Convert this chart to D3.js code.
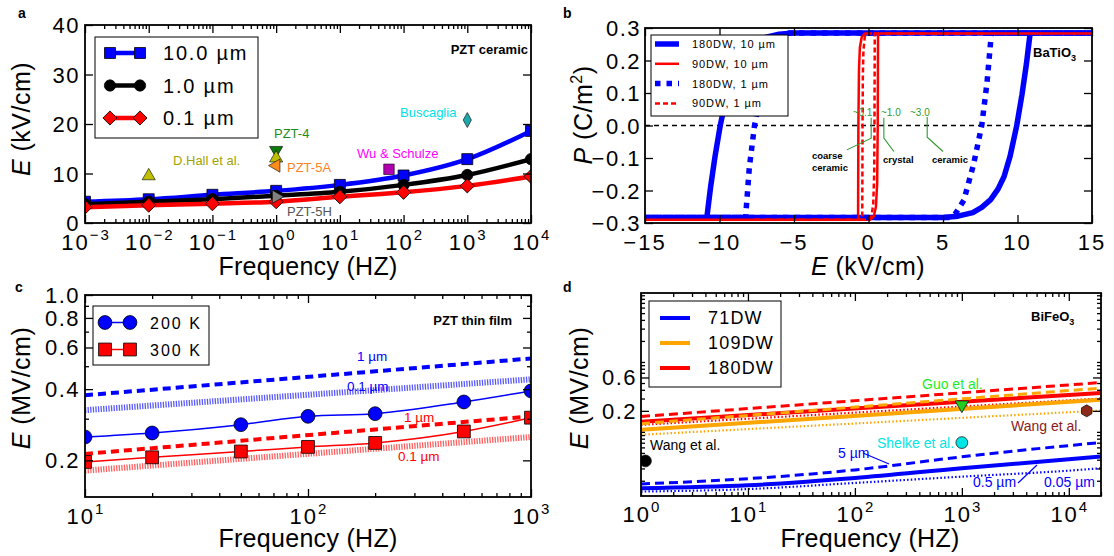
<!DOCTYPE html>
<html>
<head>
<meta charset="utf-8">
<script src="https://cdn.jsdelivr.net/npm/d3@7"></script>
<style>
  body { margin: 0; background: #fff; }
  text { font-family: "Liberation Sans", Arial, sans-serif; }
</style>
</head>
<body>
<div id="chart"></div>
<script>
// ---------- panel a : PZT ceramic ----------
const freqA = [1e-3, 1e-2, 1e-1, 1, 10, 100, 1e3, 1e4];
const ecA10um = [4.3, 4.8, 5.7, 6.5, 7.7, 9.6, 12.9, 18.6];
const ecA1um = [3.8, 4.3, 4.8, 5.5, 6.3, 7.7, 9.7, 12.9];
const ecA01um = [3.2, 3.6, 3.9, 4.3, 5.3, 6.2, 7.5, 9.4];
const legendA = ["10.0 µm", "1.0 µm", "0.1 µm"];
const expA = [-3, -2, -1, 0, 1, 2, 3, 4];
const yTicksA = [0, 10, 20, 30, 40];
// literature points (frequency, coercive field)
const refNamesA = ["D.Hall et al.", "PZT-4", "D.Hall et al.", "PZT-5A", "PZT-5H", "Wu & Schulze", "Buscaglia"];
const refFreqA = [0.01, 1, 1, 1, 1, 59, 1000];
const refFieldA = [9.5, 14.7, 13.1, 11.6, 5.3, 10.85, 20.8];

// ---------- panel b : BaTiO3 hysteresis ----------
const loop180w10Up = [[-15, -0.283], [5.0, -0.283], [6.0, -0.279], [7.0, -0.268], [7.6, -0.252], [8.2, -0.228], [8.7, -0.195], [9.1, -0.157], [9.5, -0.095], [9.95, 0.0], [10.3, 0.095], [10.6, 0.19], [10.85, 0.285], [15, 0.285]];
const loop180w10Down = [[15, 0.285], [-5.0, 0.285], [-6.0, 0.281], [-7.0, 0.27], [-7.6, 0.254], [-8.2, 0.23], [-8.7, 0.197], [-9.1, 0.159], [-9.5, 0.097], [-9.95, 0.0], [-10.3, -0.095], [-10.6, -0.19], [-10.85, -0.283], [-15, -0.283]];
const loop90w10Up = [[-15, -0.29], [0.1, -0.29], [0.35, -0.28], [0.5, -0.25], [0.58, -0.18], [0.62, 0.0], [0.64, 0.283], [15, 0.283]];
const loop90w10Down = [[15, 0.283], [-0.25, 0.283], [-0.45, 0.273], [-0.58, 0.24], [-0.64, 0.17], [-0.68, 0.0], [-0.7, -0.29], [-15, -0.29]];
const loop180w1Up = [[-15, -0.283], [5.5, -0.283], [5.85, -0.27], [6.4, -0.23], [7.05, -0.12], [7.6, 0.0], [7.95, 0.13], [8.25, 0.285], [15, 0.285]];
const loop180w1Down = [[15, 0.285], [-5.5, 0.285], [-5.85, 0.272], [-6.4, 0.232], [-7.1, 0.12], [-7.65, 0.0], [-8.0, -0.13], [-8.25, -0.283], [-15, -0.283]];
const loop90w1Up = [[-15, -0.29], [0.0, -0.29], [0.2, -0.28], [0.32, -0.24], [0.38, -0.15], [0.4, 0.0], [0.42, 0.283], [15, 0.283]];
const loop90w1Down = [[15, 0.283], [-0.1, 0.283], [-0.25, 0.273], [-0.34, 0.23], [-0.38, 0.15], [-0.4, 0.0], [-0.42, -0.29], [-15, -0.29]];
const legendB = ["180DW, 10 µm", "90DW, 10 µm", "180DW, 1 µm", "90DW, 1 µm"];
const xTicksB = [-15, -10, -5, 0, 5, 10, 15];
const yTicksB = [-0.3, -0.2, -0.1, 0, 0.1, 0.2, 0.3];
const grainNotes = ["~0.1", "~1.0", "~3.0"];
const grainNoteE = [-0.4, 1.5, 3.45];
const grainNames = ["crystal", "ceramic"];

// ---------- panel c : PZT thin film ----------
const freqC = [10, 20, 50, 100, 200, 500, 1000];
const ec200K = [0.251, 0.261, 0.283, 0.307, 0.315, 0.353, 0.393];
const ec300K = [0.197, 0.206, 0.218, 0.228, 0.237, 0.265, 0.303];
const fitFreqC = [10, 1000];
const fitBlue1um = [0.377, 0.539];
const fitBlue01um = [0.326, 0.44];
const fitRed1um = [0.213, 0.307];
const fitRed01um = [0.181, 0.251];
const legendC = ["200 K", "300 K"];
const expC = [1, 2, 3];
const yTicksC = [0.2, 0.4, 0.6, 0.8, 1.0];
const yMinorC = [0.3, 0.5, 0.7, 0.9];

// ---------- panel d : BiFeO3 ----------
const fitFreqD = [1, 2e4];
const dw180Solid = [0.140, 0.359];
const dw180Dash = [0.166, 0.508];
const dw180Dot = [0.126, 0.30];
const dw109Solid = [0.107, 0.288];
const dw109Dash = [0.131, 0.423];
const dw109Dot = [0.091, 0.202];
const freqD71 = [1, 10, 100, 1e3, 1e4, 2e4];
const dw71Solid = [0.0156, 0.0172, 0.0219, 0.0302, 0.0406, 0.0443];
const dw71Dash = [0.0180, 0.0214, 0.0286, 0.0440, 0.0637, 0.0703];
const dw71Dot = [0.0140, 0.0152, 0.0186, 0.0229, 0.0279, 0.0302];
const legendD = ["71DW", "109DW", "180DW"];
const refNamesD = ["Wang et al.", "Guo et al.", "Shelke et al.", "Wang et al."];
const refFreqD = [1.1, 1000, 1000, 1.47e4];
const refFieldD = [0.0384, 0.244, 0.0703, 0.2];
const expD = [0, 1, 2, 3, 4];
const yTicksD = [0.2, 0.6];

const dejavu = '"DejaVu Sans", sans-serif';
const svg = d3.select("#chart").append("svg").attr("width", 1114).attr("height", 556);

// Utility functions
function minorLog(lo, hi) {
  const out = [];
  for (let e = Math.floor(Math.log10(lo)); e <= Math.ceil(Math.log10(hi)); e++) {
    for (let k = 2; k <= 9; k++) {
      const v = k * Math.pow(10, e);
      if (v >= lo * 0.999 && v <= hi * 1.001) out.push(v);
    }
  }
  return out;
}

function addClip(id, x, y) {
  const [x0, x1] = x.range(), [y0, y1] = y.range();
  svg.append("clipPath").attr("id", id).append("rect")
    .attr("x", x0).attr("y", y1).attr("width", x1 - x0).attr("height", y0 - y1);
  return svg.append("g").attr("clip-path", `url(#${id})`);
}

function ticks(x, y, xMajor, xMinor, yMajor, yMinor) {
  const [x0, x1] = x.range(), [y0, y1] = y.range();
  const g = svg.append("g");
  const add = (axis, tx, ty) => g.append("g")
    .attr("transform", `translate(${tx},${ty})`)
    .call(axis)
    .call(s => {
      s.select(".domain").remove();
      s.selectAll("text").remove();
      s.selectAll("line").attr("stroke-width", 1.3);
    });
  [[xMajor, 8], [xMinor, 4]].forEach(([v, len]) => {
    if (!v.length) return;
    add(d3.axisBottom(x).tickValues(v).tickSize(-len), 0, y0);
    add(d3.axisTop(x).tickValues(v).tickSize(-len), 0, y1);
  });
  [[yMajor, 8], [yMinor, 4]].forEach(([v, len]) => {
    if (!v.length) return;
    add(d3.axisLeft(y).tickValues(v).tickSize(-len), x0, 0);
    add(d3.axisRight(y).tickValues(v).tickSize(-len), x1, 0);
  });
  g.append("rect").attr("x", x0).attr("y", y1).attr("width", x1 - x0).attr("height", y0 - y1)
    .attr("fill", "none").attr("stroke", "#000").attr("stroke-width", 1.8);
}

function powLabels(x, exps, y) {
  exps.forEach(e => {
    const t = svg.append("text").attr("x", x(Math.pow(10, e)) + 1).attr("y", y)
      .attr("text-anchor", "middle").attr("font-size", 22).attr("letter-spacing", 2);
    t.append("tspan").text("10");
    t.append("tspan").attr("dy", -10).attr("font-size", 15).text(String(e).replace("-", "\u2212"));
  });
}

function yLabels(y, vals, xr, fmt) {
  vals.forEach(v => {
    svg.append("text").attr("x", xr).attr("y", y(v) + 8).attr("text-anchor", "end")
      .attr("font-size", 22).attr("letter-spacing", 1.5).text(fmt(v));
  });
}

function yTitle(x, y, parts) {
  const t = svg.append("text").attr("transform", `translate(${x},${y}) rotate(-90)`)
    .attr("text-anchor", "middle").attr("font-size", 25).attr("letter-spacing", 0.5);
  parts(t);
}

function xTitle(x, y, txt) {
  svg.append("text").attr("x", x).attr("y", y).attr("text-anchor", "middle")
    .attr("font-size", 25).attr("letter-spacing", 0.3).text(txt);
}

function panelLetter(x, y, s) {
  svg.append("text").attr("x", x).attr("y", y).attr("font-family", dejavu)
    .attr("font-weight", "bold").attr("font-size", 14).text(s);
}

function note(x, y, s, color, size) {
  return svg.append("text").attr("x", x).attr("y", y).attr("fill", color)
    .attr("font-size", size || 13).text(s);
}

const thinDiamond = s => `M0,${-s}L${s * 0.55},0L0,${s}L${-s * 0.55},0Z`;
const hexagon = r => d3.range(6).map(i => {
  const a = Math.PI / 6 + i * Math.PI / 3;
  return (i ? "L" : "M") + (r * Math.cos(a)).toFixed(2) + "," + (r * Math.sin(a)).toFixed(2);
}).join("") + "Z";

// ================= Panel a =================
const xA = d3.scaleLog().domain([1e-3, 1e4]).range([85, 531]);
const yA = d3.scaleLinear().domain([0, 40]).range([223, 25]);
const gA = addClip("clipA", xA, yA);
const lineA = d3.line().x(d => xA(d[0])).y(d => yA(d[1])).curve(d3.curveMonotoneX);
const seriesA = [
  { v: ecA10um, color: "#0000ff", sym: d3.symbol(d3.symbolSquare, 120)(), rot: 0 },
  { v: ecA1um, color: "#000000", sym: d3.symbol(d3.symbolCircle, 100)(), rot: 0 },
  { v: ecA01um, color: "#ff0000", sym: d3.symbol(d3.symbolSquare, 100)(), rot: 45 }
];
seriesA.forEach(s => {
  const pts = freqA.map((f, i) => [f, s.v[i]]);
  gA.append("path").datum(pts).attr("d", lineA).attr("fill", "none")
    .attr("stroke", s.color).attr("stroke-width", 4.5);
  gA.selectAll(null).data(pts).join("path").attr("d", s.sym)
    .attr("transform", d => `translate(${xA(d[0])},${yA(d[1])}) rotate(${s.rot})`)
    .attr("fill", s.color).attr("stroke", "#000").attr("stroke-width", 0.8);
});
// literature markers
const triUp = d3.symbol(d3.symbolTriangle, 75)();
const refStyleA = [
  { fill: "#bfbf00", d: triUp, rot: 0 },
  { fill: "#0b7a0b", d: triUp, rot: 180 },
  { fill: "#bfbf00", d: triUp, rot: 0 },
  { fill: "#ff8c1a", d: triUp, rot: -90 },
  { fill: "#808080", d: triUp, rot: 90 },
  { fill: "#b000b0", d: d3.symbol(d3.symbolSquare, 110)(), rot: 0 },
  { fill: "#20a8a8", d: thinDiamond(7.5), rot: 0 }
];
refFreqA.forEach((f, i) => {
  svg.append("path").attr("d", refStyleA[i].d)
    .attr("transform", `translate(${xA(f)},${yA(refFieldA[i])}) rotate(${refStyleA[i].rot})`)
    .attr("fill", refStyleA[i].fill).attr("stroke", "#000").attr("stroke-width", 0.6);
});
note(173, 165, refNamesA[0], "#a3a300");
note(274, 138, refNamesA[1], "#1e8c1e");
note(287, 172, refNamesA[3], "#ff7f27");
note(287, 216, refNamesA[4], "#555555");
note(357, 158, refNamesA[5], "#ff00ff");
note(400, 117, refNamesA[6], "#00e0e8");
svg.append("text").attr("x", 528).attr("y", 54).attr("text-anchor", "end")
  .attr("font-family", dejavu).attr("font-weight", "bold").attr("font-size", 13).text("PZT ceramic");
ticks(xA, yA, expA.map(e => Math.pow(10, e)), minorLog(1e-3, 1e4), yTicksA, []);
// legend a
svg.append("rect").attr("x", 95).attr("y", 37).attr("width", 163).attr("height", 101)
  .attr("fill", "#fff").attr("stroke", "#000").attr("stroke-width", 1);
seriesA.forEach((s, i) => {
  const ly = 53 + i * 32.5;
  svg.append("line").attr("x1", 110).attr("x2", 140).attr("y1", ly).attr("y2", ly)
    .attr("stroke", s.color).attr("stroke-width", 4.5);
  [110, 140].forEach(lx => svg.append("path").attr("d", s.sym)
    .attr("transform", `translate(${lx},${ly}) rotate(${s.rot})`)
    .attr("fill", s.color).attr("stroke", "#000").attr("stroke-width", 0.8));
  svg.append("text").attr("x", 163).attr("y", ly + 7).attr("font-size", 20)
    .attr("letter-spacing", 1.8).text(legendA[i]);
});
powLabels(xA, expA, 250);
yLabels(yA, yTicksA, 80, d3.format("d"));
yTitle(30, 119, t => {
  t.append("tspan").attr("font-style", "italic").text("E");
  t.append("tspan").text(" (kV/cm)");
});
xTitle(308, 275, "Frequency (HZ)");
panelLetter(18, 18, "a");

// ================= Panel b =================
const xB = d3.scaleLinear().domain([-15, 15]).range([645, 1092]);
const yB = d3.scaleLinear().domain([-0.3, 0.3]).range([223, 28]);
const gB = addClip("clipB", xB, yB);
const lineB = d3.line().x(d => xB(d[0])).y(d => yB(d[1]));
gB.append("line").attr("x1", xB(-15)).attr("x2", xB(15)).attr("y1", yB(0)).attr("y2", yB(0))
  .attr("stroke", "#000").attr("stroke-width", 1.5).attr("stroke-dasharray", "5,4");
const stylesB = [
  { color: "#0000ff", w: 5.5, dash: null },
  { color: "#ff0000", w: 2.5, dash: null },
  { color: "#0000ff", w: 5.5, dash: "5.5,6" },
  { color: "#ff0000", w: 2.5, dash: "5,3" }
];
const loopsB = [
  loop180w10Up.concat(loop180w10Down),
  loop90w10Up.concat(loop90w10Down),
  loop180w1Up.concat(loop180w1Down),
  loop90w1Up.concat(loop90w1Down)
];
loopsB.forEach((pts, i) => {
  gB.append("path").datum(pts).attr("d", lineB).attr("fill", "none")
    .attr("stroke", stylesB[i].color).attr("stroke-width", stylesB[i].w)
    .attr("stroke-dasharray", stylesB[i].dash).attr("stroke-linejoin", "round");
});
// grain size brackets
const green = "#2e9a2e";
const bracketsB = [
  [[0.18, 0.024], [0.18, -0.039], [-1.45, -0.075]],
  [[1.03, 0.024], [1.03, -0.039], [1.7, -0.08]],
  [[3.94, 0.026], [3.94, -0.036], [5.0, -0.08]]
];
bracketsB.forEach(b => svg.append("path").datum(b).attr("d", lineB).attr("fill", "none")
  .attr("stroke", green).attr("stroke-width", 1.1));
grainNotes.forEach((s, i) => svg.append("text").attr("x", xB(grainNoteE[i])).attr("y", 116)
  .attr("text-anchor", "middle").attr("font-family", dejavu).attr("font-size", 10)
  .attr("fill", green).text(s));
const smallBold = (x, y, s) => svg.append("text").attr("x", x).attr("y", y)
  .attr("font-family", dejavu).attr("font-weight", "bold").attr("font-size", 9.5).text(s);
smallBold(812, 159, "coarse");
smallBold(812, 171, "ceramic");
smallBold(883, 163, grainNames[0]);
smallBold(932, 163, grainNames[1]);
const bt = svg.append("text").attr("x", 1033).attr("y", 57).attr("font-family", dejavu)
  .attr("font-weight", "bold").attr("font-size", 13);
bt.append("tspan").text("BaTiO");
bt.append("tspan").attr("dy", 4).attr("font-size", 9).text("3");
ticks(xB, yB, xTicksB, [], yTicksB, []);
// legend b
svg.append("rect").attr("x", 651).attr("y", 35).attr("width", 137).attr("height", 81)
  .attr("fill", "#fff").attr("stroke", "#000").attr("stroke-width", 1);
legendB.forEach((s, i) => {
  const ly = 44 + i * 19.8;
  svg.append("line").attr("x1", 655).attr("x2", 679).attr("y1", ly).attr("y2", ly)
    .attr("stroke", stylesB[i].color).attr("stroke-width", stylesB[i].w)
    .attr("stroke-dasharray", stylesB[i].dash);
  svg.append("text").attr("x", 692).attr("y", ly + 4).attr("font-family", dejavu)
    .attr("font-size", 11).attr("letter-spacing", 0.9).text(s);
});
xTicksB.forEach(v => svg.append("text").attr("x", xB(v)).attr("y", 250)
  .attr("text-anchor", "middle").attr("font-size", 22).attr("letter-spacing", 2)
  .text(d3.format("d")(v)));
yLabels(yB, yTicksB, 641, d3.format(".1f"));
yTitle(592, 115, t => {
  t.append("tspan").attr("font-style", "italic").text("P");
  t.append("tspan").text(" (C/m");
  t.append("tspan").attr("dy", -10).attr("font-size", 16).text("2");
  t.append("tspan").attr("dy", 10).text(")");
});
const xtB = svg.append("text").attr("x", 868).attr("y", 275).attr("text-anchor", "middle")
  .attr("font-size", 25).attr("letter-spacing", 0.5);
xtB.append("tspan").attr("font-style", "italic").text("E");
xtB.append("tspan").text(" (kV/cm)");
panelLetter(563, 18, "b");

// ================= Panel c =================
const xC = d3.scaleLog().domain([10, 1000]).range([85, 531]);
const yC = d3.scaleLog().domain([0.14, 1.0]).range([497, 295]);
const gC = addClip("clipC", xC, yC);
const lineC = d3.line().x(d => xC(d[0])).y(d => yC(d[1]));
const fitsC = [
  { v: fitBlue1um, color: "#0000ff", w: 4, dash: "8,5" },
  { v: fitBlue01um, color: "#5a5aff", w: 6, dash: "1.3,1.3" },
  { v: fitRed1um, color: "#ff0000", w: 4, dash: "8,5" },
  { v: fitRed01um, color: "#ff6060", w: 6, dash: "1.3,1.3" }
];
fitsC.forEach(s => gC.append("path").datum(fitFreqC.map((f, i) => [f, s.v[i]]))
  .attr("d", lineC).attr("fill", "none").attr("stroke", s.color)
  .attr("stroke-width", s.w).attr("stroke-dasharray", s.dash));
const seriesC = [
  { v: ec200K, color: "#0000ff", sym: d3.symbol(d3.symbolCircle, 150)() },
  { v: ec300K, color: "#ff0000", sym: d3.symbol(d3.symbolSquare, 165)() }
];
const smoothC = d3.line().x(d => xC(d[0])).y(d => yC(d[1])).curve(d3.curveMonotoneX);
seriesC.forEach(s => {
  const pts = freqC.map((f, i) => [f, s.v[i]]);
  gC.append("path").datum(pts).attr("d", smoothC).attr("fill", "none")
    .attr("stroke", s.color).attr("stroke-width", 1.5);
  gC.selectAll(null).data(pts).join("path").attr("d", s.sym)
    .attr("transform", d => `translate(${xC(d[0])},${yC(d[1])})`)
    .attr("fill", s.color).attr("stroke", "#000").attr("stroke-width", 0.8);
});
note(357, 361, "1 µm", "#0000ff", 13.5);
note(347, 391, "0.1 µm", "#0000ff", 13.5);
note(404, 422, "1 µm", "#ff0000", 13.5);
note(398, 461, "0.1 µm", "#ff0000", 13.5);
svg.append("text").attr("x", 512).attr("y", 325).attr("text-anchor", "end")
  .attr("font-family", dejavu).attr("font-weight", "bold").attr("font-size", 13).text("PZT thin film");
ticks(xC, yC, expC.map(e => Math.pow(10, e)), minorLog(10, 1000), yTicksC, yMinorC);
svg.append("rect").attr("x", 93).attr("y", 306).attr("width", 116).attr("height", 59)
  .attr("fill", "#fff").attr("stroke", "#000").attr("stroke-width", 1);
seriesC.forEach((s, i) => {
  const ly = 322.5 + i * 27;
  svg.append("line").attr("x1", 105).attr("x2", 130).attr("y1", ly).attr("y2", ly)
    .attr("stroke", s.color).attr("stroke-width", 1.5);
  [105, 130].forEach(lx => svg.append("path").attr("d", s.sym)
    .attr("transform", `translate(${lx},${ly})`)
    .attr("fill", s.color).attr("stroke", "#000").attr("stroke-width", 0.8));
  svg.append("text").attr("x", 150).attr("y", ly + 6).attr("font-size", 16)
    .attr("letter-spacing", 2).text(legendC[i]);
});
powLabels(xC, expC, 524);
yLabels(yC, yTicksC, 80, d3.format(".1f"));
yTitle(30, 388, t => {
  t.append("tspan").attr("font-style", "italic").text("E");
  t.append("tspan").text(" (MV/cm)");
});
xTitle(308, 547, "Frequency (HZ)");
panelLetter(15, 292, "c");

// ================= Panel d =================
const xD = d3.scaleLog().domain([1, 2e4]).range([641, 1101]);
const yD = d3.scaleLog().domain([0.0121, 9.7]).range([496, 293]);
const gD = addClip("clipD", xD, yD);
const lineD = d3.line().x(d => xD(d[0])).y(d => yD(d[1])).curve(d3.curveMonotoneX);
const fitsD = [
  { f: fitFreqD, v: dw109Dot, color: "#ffa500", w: 2.2, dash: "1.5,2.2" },
  { f: fitFreqD, v: dw180Dot, color: "#ff0000", w: 2.2, dash: "1.5,2.2" },
  { f: fitFreqD, v: dw109Solid, color: "#ffa500", w: 4, dash: null },
  { f: fitFreqD, v: dw180Solid, color: "#ff0000", w: 4, dash: null },
  { f: fitFreqD, v: dw109Dash, color: "#ffa500", w: 3, dash: "9,5" },
  { f: fitFreqD, v: dw180Dash, color: "#ff0000", w: 3, dash: "9,5" },
  { f: freqD71, v: dw71Dot, color: "#0000ff", w: 2.2, dash: "1.5,2.2" },
  { f: freqD71, v: dw71Solid, color: "#0000ff", w: 4, dash: null },
  { f: freqD71, v: dw71Dash, color: "#0000ff", w: 3, dash: "9,5" }
];
fitsD.forEach(s => gD.append("path").datum(s.f.map((f, i) => [f, s.v[i]]))
  .attr("d", lineD).attr("fill", "none").attr("stroke", s.color)
  .attr("stroke-width", s.w).attr("stroke-dasharray", s.dash));
const refStyleD = [
  { fill: "#000000", d: d3.symbol(d3.symbolCircle, 110)(), rot: 0 },
  { fill: "#22cc22", d: d3.symbol(d3.symbolTriangle, 80)(), rot: 180 },
  { fill: "#00e5e5", d: d3.symbol(d3.symbolCircle, 110)(), rot: 0 },
  { fill: "#8b2a1a", d: hexagon(6), rot: 0 }
];
refFreqD.forEach((f, i) => gD.append("path").attr("d", refStyleD[i].d)
  .attr("transform", `translate(${xD(f)},${yD(refFieldD[i])}) rotate(${refStyleD[i].rot})`)
  .attr("fill", refStyleD[i].fill).attr("stroke", "#000").attr("stroke-width", 0.7));
note(650, 450, refNamesD[0], "#000000", 14);
note(922, 389, refNamesD[1], "#22ee22", 14);
note(877, 448, refNamesD[2], "#00e5e5", 14);
note(1011, 431, refNamesD[3], "#8b1a1a", 14);
note(838, 458, "5 µm", "#0000ff", 14);
note(973, 487, "0.5 µm", "#0000ff", 14);
note(1044, 487, "0.05 µm", "#0000ff", 14);
svg.append("line").attr("x1", 863).attr("y1", 453).attr("x2", 889).attr("y2", 464)
  .attr("stroke", "#0000ff").attr("stroke-width", 1.2);
svg.append("line").attr("x1", 1018).attr("y1", 483).attr("x2", 1037).attr("y2", 465)
  .attr("stroke", "#0000ff").attr("stroke-width", 1.2);
const bf = svg.append("text").attr("x", 1031).attr("y", 321).attr("font-family", dejavu)
  .attr("font-weight", "bold").attr("font-size", 13);
bf.append("tspan").text("BiFeO");
bf.append("tspan").attr("dy", 4).attr("font-size", 9).text("3");
ticks(xD, yD, expD.map(e => Math.pow(10, e)), minorLog(1, 2e4), yTicksD,
  yD.ticks().filter(v => !yTicksD.includes(+v.toPrecision(3))));
svg.append("rect").attr("x", 649).attr("y", 301).attr("width", 132).attr("height", 86)
  .attr("fill", "#fff").attr("stroke", "#000").attr("stroke-width", 1);
["#0000ff", "#ffa500", "#ff0000"].forEach((c, i) => {
  const ly = 318 + i * 25;
  svg.append("line").attr("x1", 660).attr("x2", 690).attr("y1", ly).attr("y2", ly)
    .attr("stroke", c).attr("stroke-width", 4);
  svg.append("text").attr("x", 708).attr("y", ly + 6).attr("font-size", 18)
    .attr("letter-spacing", 1.2).text(legendD[i]);
});
powLabels(xD, expD, 522);
yLabels(yD, yTicksD, 637, d3.format(".1f"));
yTitle(588, 388, t => {
  t.append("tspan").attr("font-style", "italic").text("E");
  t.append("tspan").text(" (MV/cm)");
});
xTitle(870, 547, "Frequency (HZ)");
panelLetter(563, 292, "d");
</script>
</body>
</html>
